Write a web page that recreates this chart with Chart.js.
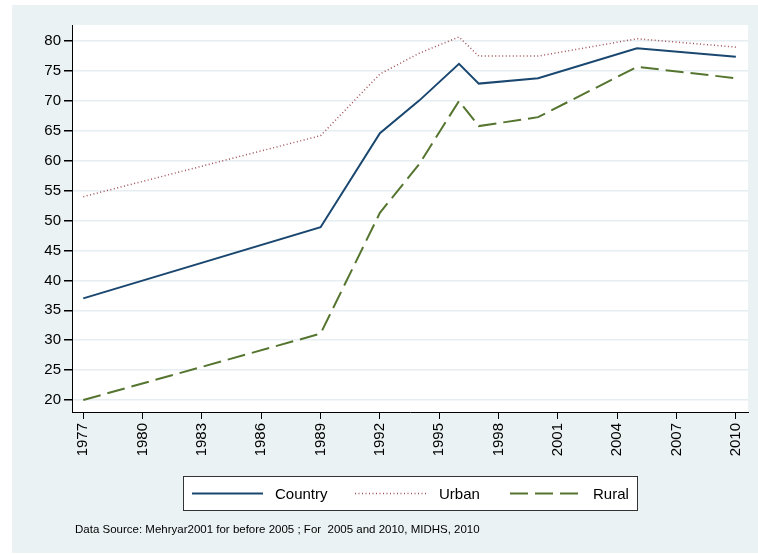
<!DOCTYPE html>
<html>
<head>
<meta charset="utf-8">
<script src="https://cdn.jsdelivr.net/npm/chart.js@4"></script>
<style>
  html, body { margin: 0; padding: 0; background: #fff; }
  canvas { display: block; }
</style>
</head>
<body>
<canvas id="chart" width="758" height="554"></canvas>
<script>
const years   = [1977, 1989, 1992, 1994, 1996, 1997, 2000, 2005, 2010];
const country = [37.0, 48.9, 64.6, 70.1, 76.2, 72.9, 73.8, 78.8, 77.4];
const urban   = [54.0, 64.2, 74.5, 78.0, 80.7, 77.5, 77.5, 80.4, 79.0];
const rural   = [20.0, 31.1, 51.3, 59.5, 70.0, 65.8, 67.3, 75.7, 73.8];

const seriesNames = ['Country', 'Urban', 'Rural'];
const xTicks = [1977, 1980, 1983, 1986, 1989, 1992, 1995, 1998, 2001, 2004, 2007, 2010];
const yTicks = [20, 25, 30, 35, 40, 45, 50, 55, 60, 65, 70, 75, 80];
const sourceNote = 'Data Source: Mehryar2001 for before 2005 ; For  2005 and 2010, MIDHS, 2010';

const BG = '#eaf2f3';
const FONT = '"Liberation Sans", Arial, sans-serif';

const toPoints = vals => vals.map((v, i) => ({ x: years[i], y: v }));

// фон графика в стиле Stata + легенда в рамке + подпись источника
const stataFrame = {
    id: 'stataFrame',
    beforeDraw(chart) {
        const { ctx, chartArea: a } = chart;
        ctx.save();
        ctx.fillStyle = '#fff';
        ctx.fillRect(0, 0, chart.width, chart.height);
        ctx.fillStyle = BG;
        ctx.fillRect(12, 5, chart.width - 12, 548);
        ctx.fillStyle = '#fff';
        ctx.fillRect(a.left, a.top, a.right - a.left, a.bottom - a.top);
        ctx.restore();
    },
    afterDraw(chart) {
        const ctx = chart.ctx;
        ctx.save();
        // рамка легенды
        ctx.fillStyle = '#fff';
        ctx.fillRect(183, 476, 455, 35);
        ctx.strokeStyle = '#333';
        ctx.lineWidth = 1;
        ctx.strokeRect(183.5, 476.5, 454, 34);

        const items = [
            { x0: 192, x1: 263, tx: 275 },
            { x0: 355, x1: 428, tx: 439 },
            { x0: 510, x1: 580, tx: 593 }
        ];
        const yMid = 493.5;
        chart.data.datasets.forEach((ds, i) => {
            const it = items[i];
            ctx.strokeStyle = ds.borderColor;
            ctx.lineWidth = ds.borderWidth;
            ctx.setLineDash(ds.borderDash || []);
            ctx.beginPath();
            ctx.moveTo(it.x0, yMid);
            ctx.lineTo(it.x1, yMid);
            ctx.stroke();
            ctx.setLineDash([]);
            ctx.fillStyle = '#000';
            ctx.font = '15px ' + FONT;
            ctx.textBaseline = 'middle';
            ctx.textAlign = 'left';
            ctx.fillText(ds.label, it.tx, yMid + 1);
        });

        ctx.fillStyle = '#000';
        ctx.font = '11.5px ' + FONT;
        ctx.textBaseline = 'middle';
        ctx.fillText(sourceNote, 75, 529.5);
        ctx.restore();
    }
};

new Chart(document.getElementById('chart'), {
    type: 'line',
    data: {
        datasets: [
            {
                label: seriesNames[0],
                data: toPoints(country),
                borderColor: '#1a476f',
                borderWidth: 2
            },
            {
                label: seriesNames[1],
                data: toPoints(urban),
                borderColor: 'rgba(144,53,59,0.85)',
                borderWidth: 1.5,
                borderDash: [1, 2.5]
            },
            {
                label: seriesNames[2],
                data: toPoints(rural),
                borderColor: '#55752f',
                borderWidth: 2,
                borderDash: [18, 7]
            }
        ]
    },
    options: {
        responsive: false,
        animation: false,
        devicePixelRatio: 1,
        elements: { point: { radius: 0 }, line: { tension: 0 } },
        layout: { padding: { left: 12, top: 25, right: 8, bottom: 0 } },
        plugins: { legend: { display: false }, tooltip: { enabled: false } },
        scales: {
            x: {
                type: 'linear',
                min: 1976.43,
                max: 2010.62,
                afterBuildTicks: s => { s.ticks = xTicks.map(v => ({ value: v })); },
                afterFit: s => { s.height = 142; },
                ticks: {
                    autoSkip: false,
                    minRotation: 90,
                    maxRotation: 90,
                    padding: 4,
                    color: '#000',
                    font: { family: FONT, size: 15 },
                    callback: v => String(v)
                },
                grid: { drawOnChartArea: false, drawTicks: true, tickLength: 7, tickColor: '#000' },
                border: { color: '#000', width: 1 }
            },
            y: {
                min: 18,
                max: 82.7,
                afterBuildTicks: s => { s.ticks = yTicks.map(v => ({ value: v })); },
                afterFit: s => { s.width = 60; },
                ticks: {
                    padding: 3,
                    color: '#000',
                    font: { family: FONT, size: 15 }
                },
                grid: { color: '#e6eef1', lineWidth: 1.5, drawTicks: true, tickLength: 8, tickColor: '#000' },
                border: { color: '#000', width: 1 }
            }
        }
    },
    plugins: [stataFrame]
});
</script>
</body>
</html>
